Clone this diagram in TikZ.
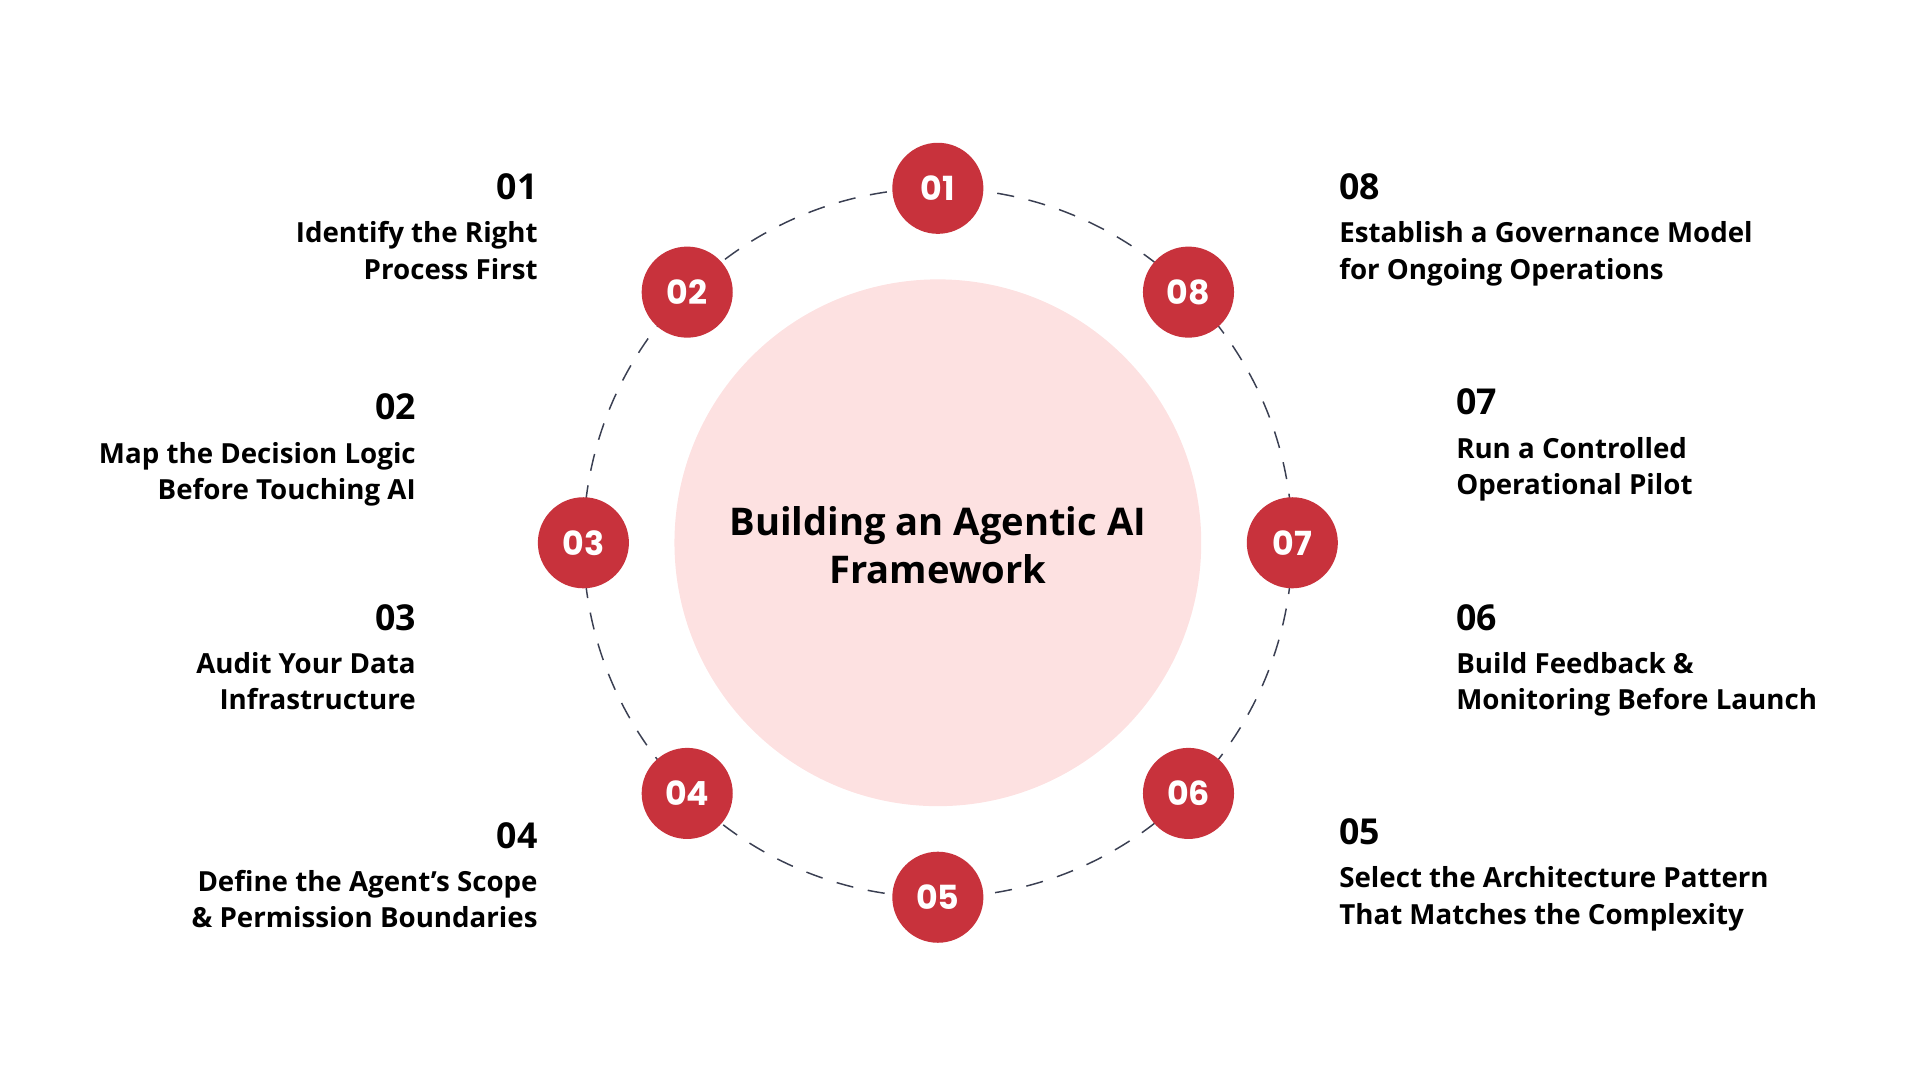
\documentclass[tikz,border=0pt]{standalone}
\usepackage{fontspec}
\setmainfont{Open Sans}
\newfontfamily\numfont{Poppins}
\definecolor{stepred}{HTML}{C8323C}
\definecolor{corepink}{HTML}{FDE1E1}
\definecolor{ringgray}{HTML}{3A3F52}
\tikzset{
  badge/.style={circle, fill=stepred, minimum size=74pt, inner sep=0pt, text=white, font=\numfont\bfseries\fontsize{27}{27}\selectfont},
  head/.style={inner sep=0pt, font=\bfseries\fontsize{29}{29}\selectfont},
  desc/.style={inner sep=0pt, font=\bfseries\fontsize{22.5}{29.5}\selectfont}
}
\begin{document}
\begin{tikzpicture}[x=1pt,y=-1pt]
\useasboundingbox (0,0) rectangle (1560,877.5);
% core and ring
\node[circle, fill=corepink, minimum size=428pt, inner sep=0pt] (core) at (762,441) {};
\draw[ringgray, line width=1.2pt, dash pattern=on 14pt off 12pt] (core.center) circle (288pt);
\node[align=center, font=\bfseries\fontsize{31}{39}\selectfont] (title) at (762,443) {Building an Agentic AI\\Framework};
% step badges
\foreach \n/\ang in {01/90,02/135,03/180,04/225,05/270,06/315,07/0,08/45}
  \node[badge] (s\n) at ([shift={(762,441)}]-\ang:288) {\n};
% left texts
\node[head, anchor=base east] (h01) at (437,162) {01};
\node[desc, anchor=north east, align=right] (d01) at (437,180) {Identify the Right\\Process First};
\node[head, anchor=base east] (h02) at (338,341) {02};
\node[desc, anchor=north east, align=right] (d02) at (338,359) {Map the Decision Logic\\Before Touching AI};
\node[head, anchor=base east] (h03) at (338,512) {03};
\node[desc, anchor=north east, align=right] (d03) at (338,530) {Audit Your Data\\Infrastructure};
\node[head, anchor=base east] (h04) at (437,689) {04};
\node[desc, anchor=north east, align=right] (d04) at (437,707) {Define the Agent's Scope\\\& Permission Boundaries};
% right texts
\node[head, anchor=base west] (h08) at (1088,162) {08};
\node[desc, anchor=north west, align=left] (d08) at (1088,180) {Establish a Governance Model\\for Ongoing Operations};
\node[head, anchor=base west] (h07) at (1183,337) {07};
\node[desc, anchor=north west, align=left] (d07) at (1183,355) {Run a Controlled\\Operational Pilot};
\node[head, anchor=base west] (h06) at (1183,512) {06};
\node[desc, anchor=north west, align=left] (d06) at (1183,530) {Build Feedback \&\\Monitoring Before Launch};
\node[head, anchor=base west] (h05) at (1088,686) {05};
\node[desc, anchor=north west, align=left] (d05) at (1088,704) {Select the Architecture Pattern\\That Matches the Complexity};
\end{tikzpicture}
\end{document}
